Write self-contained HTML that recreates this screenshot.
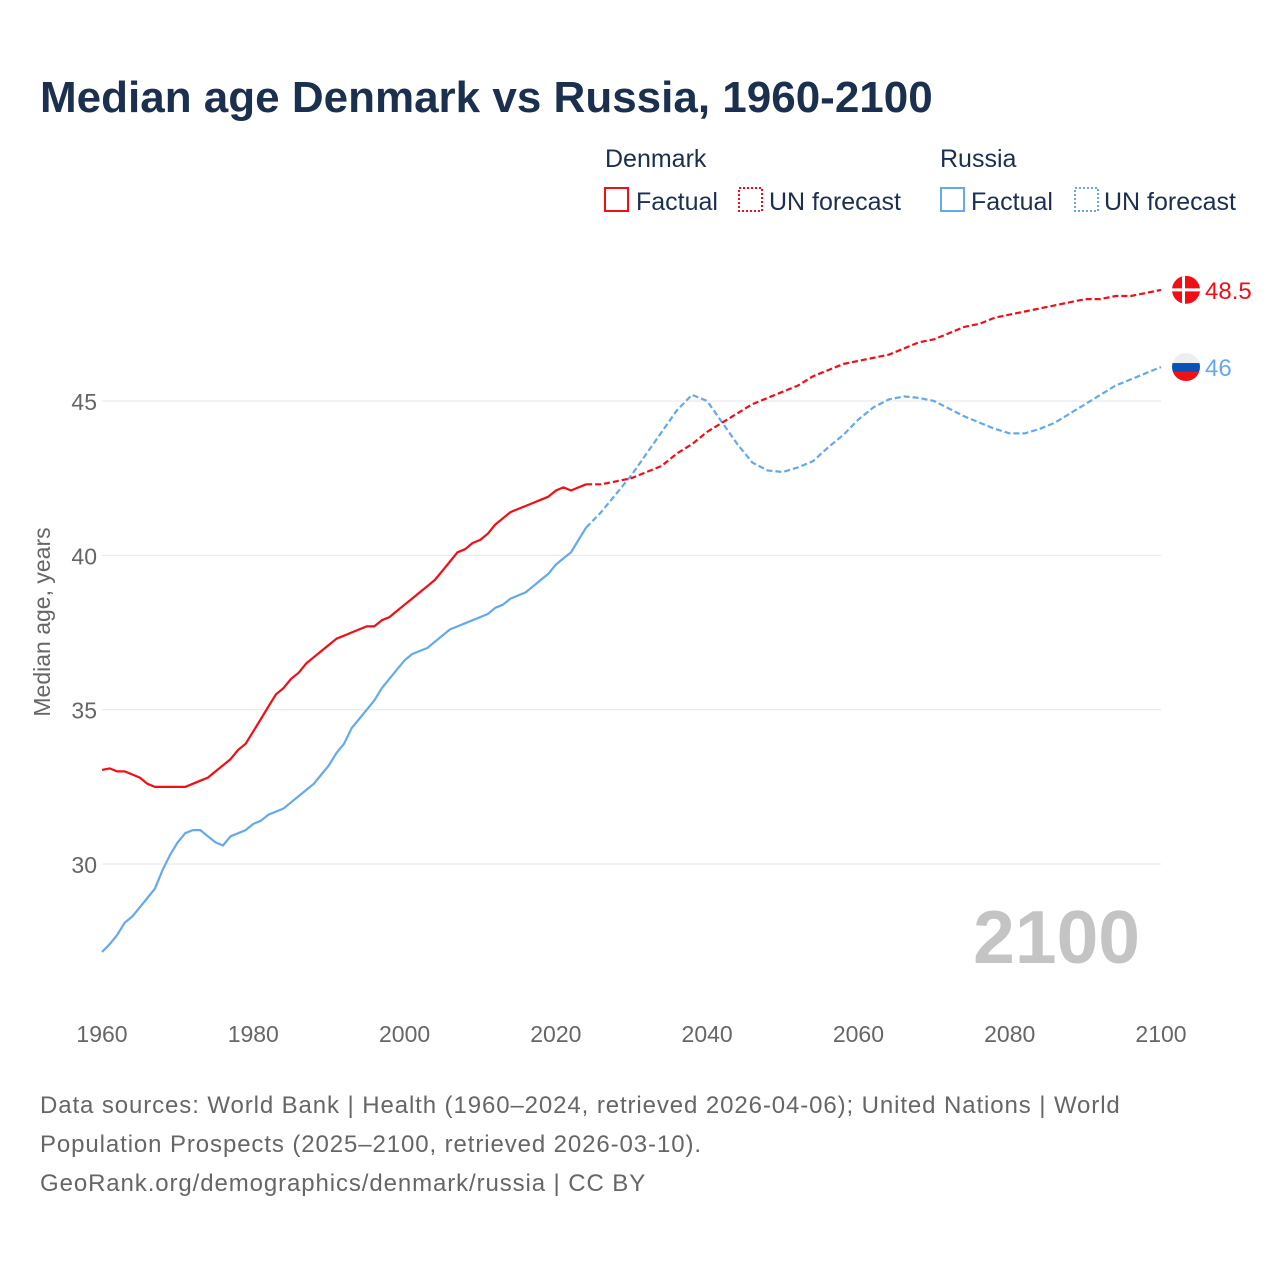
<!DOCTYPE html>
<html><head><meta charset="utf-8"><style>
body{margin:0;background:#fff;width:1280px;height:1280px;overflow:hidden;font-family:"Liberation Sans",sans-serif}
svg text{font-family:"Liberation Sans",sans-serif}
</style></head><body>
<svg id="chart" width="1280" height="1280" xmlns="http://www.w3.org/2000/svg">
<text x="40" y="112" font-size="44" font-weight="bold" fill="#1b2f4e">Median age Denmark vs Russia, 1960-2100</text>
<g font-size="25" fill="#1b2f4e">
<text x="605" y="167">Denmark</text>
<text x="940" y="167">Russia</text>
<g><rect x="605" y="188" width="23" height="23" fill="none" stroke="#f30d15" stroke-width="2"/><text x="636" y="210">Factual</text></g>
<g><rect x="739" y="188" width="23" height="23" fill="none" stroke="#f30d15" stroke-width="2" stroke-dasharray="2 2"/><text x="769" y="210">UN forecast</text></g>
<g><rect x="941" y="188" width="23" height="23" fill="none" stroke="#64a9ec" stroke-width="2"/><text x="971" y="210">Factual</text></g>
<g><rect x="1075" y="188" width="23" height="23" fill="none" stroke="#64a9ec" stroke-width="2" stroke-dasharray="2 2"/><text x="1104" y="210">UN forecast</text></g>
</g>
<text x="1140" y="963" font-size="75" font-weight="bold" fill="#c4c4c4" text-anchor="end">2100</text>
<text transform="translate(50,622) rotate(-90)" font-size="23" fill="#666" text-anchor="middle">Median age, years</text>
<g id="grid"></g><g id="lines"></g>
<g font-size="24" fill="#666" letter-spacing="0.9">
<text x="40" y="1113">Data sources: World Bank | Health (1960–2024, retrieved 2026-04-06); United Nations | World</text>
<text x="40" y="1152">Population Prospects (2025–2100, retrieved 2026-03-10).</text>
<text x="40" y="1191">GeoRank.org/demographics/denmark/russia | CC BY</text>
</g>
</svg>
<script>
const xTicks=[1960,1980,2000,2020,2040,2060,2080,2100];
const yTicks=[30,35,40,45];
const dkYears=[1960,1961,1962,1963,1964,1965,1966,1967,1968,1969,1970,1971,1972,1973,1974,1975,1976,1977,1978,1979,1980,1981,1982,1983,1984,1985,1986,1987,1988,1989,1990,1991,1992,1993,1994,1995,1996,1997,1998,1999,2000,2001,2002,2003,2004,2005,2006,2007,2008,2009,2010,2011,2012,2013,2014,2015,2016,2017,2018,2019,2020,2021,2022,2023,2024];
const dkFactual=[33.05,33.1,33.0,33.0,32.9,32.8,32.6,32.5,32.5,32.5,32.5,32.5,32.6,32.7,32.8,33.0,33.2,33.4,33.7,33.9,34.3,34.7,35.1,35.5,35.7,36.0,36.2,36.5,36.7,36.9,37.1,37.3,37.4,37.5,37.6,37.7,37.7,37.9,38.0,38.2,38.4,38.6,38.8,39.0,39.2,39.5,39.8,40.1,40.2,40.4,40.5,40.7,41.0,41.2,41.4,41.5,41.6,41.7,41.8,41.9,42.1,42.2,42.1,42.2,42.3];
const ruFactual=[27.15,27.4,27.7,28.1,28.3,28.6,28.9,29.2,29.8,30.3,30.7,31.0,31.1,31.1,30.9,30.7,30.6,30.9,31.0,31.1,31.3,31.4,31.6,31.7,31.8,32.0,32.2,32.4,32.6,32.9,33.2,33.6,33.9,34.4,34.7,35.0,35.3,35.7,36.0,36.3,36.6,36.8,36.9,37.0,37.2,37.4,37.6,37.7,37.8,37.9,38.0,38.1,38.3,38.4,38.6,38.7,38.8,39.0,39.2,39.4,39.7,39.9,40.1,40.5,40.9];
const fcYears=[2024,2026,2028,2030,2032,2034,2036,2038,2040,2042,2044,2046,2048,2050,2052,2054,2056,2058,2060,2062,2064,2066,2068,2070,2072,2074,2076,2078,2080,2082,2084,2086,2088,2090,2092,2094,2096,2098,2100];
const dkForecast=[42.3,42.3,42.4,42.5,42.7,42.9,43.3,43.6,44.0,44.3,44.6,44.9,45.1,45.3,45.5,45.8,46.0,46.2,46.3,46.4,46.5,46.7,46.9,47.0,47.2,47.4,47.5,47.7,47.8,47.9,48.0,48.1,48.2,48.3,48.3,48.4,48.4,48.5,48.6];
const ruForecast=[40.9,41.4,42.0,42.6,43.3,44.0,44.7,45.2,45.0,44.3,43.6,43.0,42.75,42.7,42.85,43.05,43.5,43.9,44.4,44.8,45.05,45.15,45.1,45.0,44.75,44.5,44.3,44.1,43.95,43.95,44.1,44.3,44.6,44.9,45.2,45.5,45.7,45.9,46.1];
const endLabels=["48.5","46"];
const NS="http://www.w3.org/2000/svg";
const X=y=>102+(y-1960)*(1161-102)/140;
const Y=v=>401+(45-v)*30.87;
function mk(tag,attrs,parent){const e=document.createElementNS(NS,tag);for(const k in attrs)e.setAttribute(k,attrs[k]);parent.appendChild(e);return e;}
const grid=document.getElementById('grid'),lines=document.getElementById('lines');
yTicks.forEach(t=>{
 const l=mk('line',{x1:102,x2:1161,y1:Y(t),y2:Y(t),stroke:'#e6e6e6','stroke-width':1},grid);
 
 
 const tx=mk('text',{x:97,y:Y(t)+9,'font-size':23,fill:'#666','text-anchor':'end'},grid);tx.textContent=t;
 
 
});
xTicks.forEach(t=>{
 const tx=mk('text',{x:X(t),y:1042,'font-size':23,fill:'#666','text-anchor':'middle'},grid);tx.textContent=t;
 
 
});
function path(xs,vs,color,dash,name){
 const d=xs.map((y,i)=>(i?'L':'M')+X(y).toFixed(1)+','+Y(vs[i]).toFixed(1)).join('');
 const p=mk('path',{d:d,fill:'none',stroke:color,'stroke-width':2.2,'stroke-linejoin':'round'},lines);
 if(dash)p.setAttribute('stroke-dasharray',dash);
 
 
}
path(dkYears,ruFactual,'#64a9ec',null,'line-russia-factual');
path(fcYears,ruForecast,'#64a9ec','6 3','line-russia-forecast');
path(dkYears,dkFactual,'#f30d15',null,'line-denmark-factual');
path(fcYears,dkForecast,'#f30d15','6 3','line-denmark-forecast');
const dkV=dkForecast[dkForecast.length-1],ruV=ruForecast[ruForecast.length-1];
const cx=1186;
const defs=mk('defs',{},lines);
const c1=mk('clipPath',{id:'cdk'},defs);mk('circle',{cx:cx,cy:Y(dkV),r:14},c1);
const c2=mk('clipPath',{id:'cru'},defs);mk('circle',{cx:cx,cy:Y(ruV),r:14},c2);
const gdk=mk('g',{'clip-path':'url(#cdk)'},lines);


const yd=Y(dkV);
mk('rect',{x:cx-14,y:yd-14,width:28,height:28,fill:'#f30d15'},gdk);
mk('rect',{x:cx-14,y:yd-1.5,width:28,height:3,fill:'#fff'},gdk);
mk('rect',{x:cx-4,y:yd-14,width:3,height:28,fill:'#fff'},gdk);
const gru=mk('g',{'clip-path':'url(#cru)'},lines);


const yr=Y(ruV);
mk('rect',{x:cx-14,y:yr-14,width:28,height:10,fill:'#eeeeee'},gru);
mk('rect',{x:cx-14,y:yr-4,width:28,height:9,fill:'#0a52b8'},gru);
mk('rect',{x:cx-14,y:yr+5,width:28,height:10,fill:'#f30d15'},gru);
const l1=mk('text',{x:1205,y:yd+9,'font-size':24,fill:'#f30d15'},lines);l1.textContent=endLabels[0];


const l2=mk('text',{x:1205,y:yr+9,'font-size':24,fill:'#64a9ec'},lines);l2.textContent=endLabels[1];


</script>
</body></html>
